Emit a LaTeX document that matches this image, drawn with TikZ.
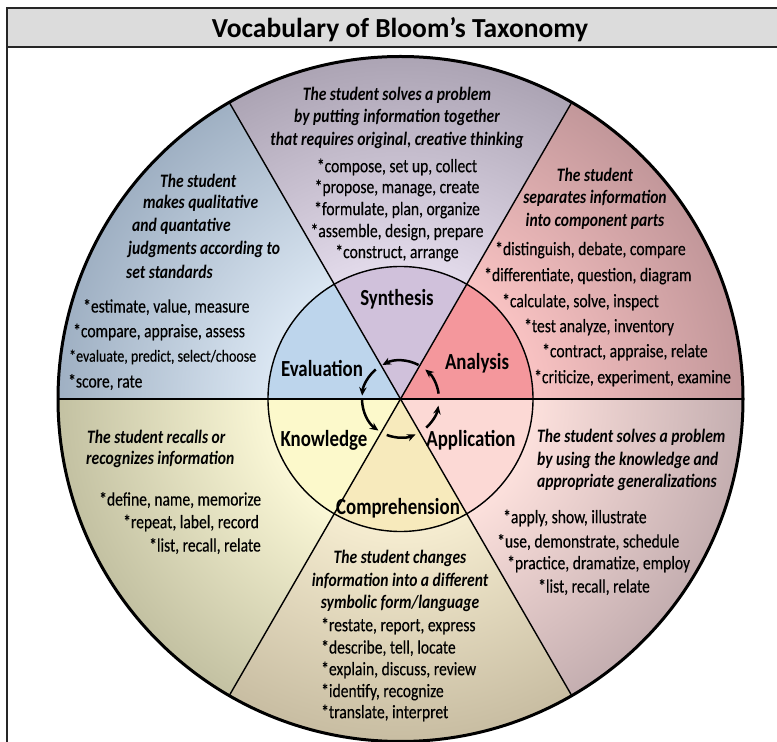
\documentclass[tikz,border=0pt]{standalone}
\usepackage{fontspec}
\setmainfont{Carlito}
\newfontfamily\condf{Carlito}[FakeStretch=0.82]
\newfontfamily\wordf{Carlito}[FakeStretch=0.82, FakeBold=0.3]
\usetikzlibrary{arrows.meta}

\definecolor{synA}{HTML}{E2DAEA} \definecolor{synB}{HTML}{ACA4B4} \definecolor{synI}{HTML}{D0C1DB}
\definecolor{anaA}{HTML}{F8C2C2} \definecolor{anaB}{HTML}{C2979A} \definecolor{anaI}{HTML}{F4979C}
\definecolor{appA}{HTML}{FCE0DC} \definecolor{appB}{HTML}{C4AEB0} \definecolor{appI}{HTML}{FCD9D5}
\definecolor{comA}{HTML}{F5ECD0} \definecolor{comB}{HTML}{C8BDA2} \definecolor{comI}{HTML}{F7EABC}
\definecolor{knoA}{HTML}{FAF7D6} \definecolor{knoB}{HTML}{C3C1A2} \definecolor{knoI}{HTML}{FCF9CB}
\definecolor{evaA}{HTML}{DAE6F2} \definecolor{evaB}{HTML}{9FB0C3} \definecolor{evaI}{HTML}{BDD5EC}
\definecolor{barG}{HTML}{DCDCDC}
\definecolor{rimA}{HTML}{FFFFFF}
\definecolor{rimB}{HTML}{000000}

\pgfdeclareradialshading[rimA,rimB]{ring}{\pgfpoint{0bp}{0bp}}{color(0bp)=(rimA); color(9.7bp)=(rimA); color(25bp)=(rimB); color(50bp)=(rimB)}

\newcommand{\bloomsector}[5]{%
  \begin{scope}
    \clip (C) -- ([shift={(#1:342.5)}]C) arc[start angle=#1, end angle=#2, radius=342.5] -- cycle;
    \colorlet{rimA}{#3}\colorlet{rimB}{#4}
    \shade[shading=ring] (C) circle[radius=342.5];
    \fill[#5] (C) circle[radius=132.5];
  \end{scope}}

\tikzset{
  head/.style={font=\condf\bfseries\itshape\fontsize{19}{22}\selectfont, inner sep=0pt},
  word/.style={font=\wordf\fontsize{19}{22}\selectfont, inner sep=0pt},
  smallword/.style={font=\wordf\fontsize{17}{20}\selectfont, inner sep=0pt},
  lbl/.style={font=\condf\bfseries\fontsize{23}{26}\selectfont, inner sep=0pt},
  cyc/.style={line width=2.5pt, -{Stealth[length=8.5pt,width=7.5pt]}},
  divider/.style={line width=1.4pt},
  frame/.style={draw=black!85, line width=1.6pt}
}

\begin{document}
\begin{tikzpicture}[x=1pt,y=1pt]
\useasboundingbox (0,0) rectangle (777,742);
\coordinate (C) at (400.5,343);

% frame and title bar
\fill[barG] (7,695) rectangle (777,734);
\draw[frame] (777,734) -- (7,734) -- (7,0);
\draw[draw=black!85, line width=2.4pt] (7,695) -- (777,695);
\node[font=\bfseries\fontsize{27.5}{30}\selectfont, inner sep=0pt] (title) at (400,712) {Vocabulary of Bloom’s Taxonomy};

% sectors
\bloomsector{0}{60}{anaA}{anaB}{anaI}
\bloomsector{60}{120}{synA}{synB}{synI}
\bloomsector{120}{180}{evaA}{evaB}{evaI}
\bloomsector{180}{240}{knoA}{knoB}{knoI}
\bloomsector{240}{300}{comA}{comB}{comI}
\bloomsector{300}{360}{appA}{appB}{appI}

% dividers and circles
\draw[divider] ([shift={(0:342.5)}]C) -- ([shift={(180:342.5)}]C);
\draw[divider] ([shift={(60:342.5)}]C) -- ([shift={(240:342.5)}]C);
\draw[divider] ([shift={(120:342.5)}]C) -- ([shift={(300:342.5)}]C);
\draw[line width=1.4pt] (C) circle[radius=132.5];
\draw[line width=3pt] (C) circle[radius=342.5];

% cycle arrows
\draw[cyc] ([shift={(8:38.5)}]C) arc[start angle=8, end angle=50, radius=38.5];
\draw[cyc] ([shift={(62:38.5)}]C) arc[start angle=62, end angle=118, radius=38.5];
\draw[cyc] ([shift={(130:38.5)}]C) arc[start angle=130, end angle=175, radius=38.5];
\draw[cyc] ([shift={(181:38.5)}]C) arc[start angle=181, end angle=235, radius=38.5];
\draw[cyc] ([shift={(249:38.5)}]C) arc[start angle=249, end angle=293, radius=38.5];
\draw[cyc] ([shift={(312:38.5)}]C) arc[start angle=312, end angle=350, radius=38.5];

% inner labels
\node[lbl] (lsyn) at (397,443) {Synthesis};
\node[lbl] (lana) at (477,379) {Analysis};
\node[lbl] (leva) at (322,373) {Evaluation};
\node[lbl] (lkno) at (324,302) {Knowledge};
\node[lbl] (lapp) at (471,302) {Application};
\node[lbl] (lcom) at (398,234) {Comprehension};

% Synthesis
\node[head] (synh1) at (397,647) {The student solves a problem};
\node[head] (synh2) at (397,625) {by putting information together};
\node[head] (synh3) at (397,602) {that requires original, creative thinking};
\node[word] (synw1) at (397,575) {*compose, set up, collect};
\node[word] (synw2) at (397,554) {*propose, manage, create};
\node[word] (synw3) at (397,532) {*formulate, plan, organize};
\node[word] (synw4) at (397,510) {*assemble, design, prepare};
\node[word] (synw5) at (397,489) {*construct, arrange};

% Analysis
\node[head] (anah1) at (595,567) {The student};
\node[head] (anah2) at (595,544) {separates information};
\node[head] (anah3) at (595,521) {into component parts};
\node[word, anchor=west] (anaw1) at (495,492) {*distinguish, debate, compare};
\node[word, anchor=west] (anaw2) at (484,466) {*differentiate, question, diagram};
\node[word, anchor=west] (anaw3) at (502,440) {*calculate, solve, inspect};
\node[word, anchor=west] (anaw4) at (524,415) {*test analyze, inventory};
\node[word, anchor=west] (anaw5) at (542,390) {*contract, appraise, relate};
\node[word, anchor=west] (anaw6) at (534,364) {*criticize, experiment, examine};

% Evaluation
\node[head, anchor=west] (evah1) at (160,561) {The student};
\node[head, anchor=west] (evah2) at (143,539) {makes qualitative};
\node[head, anchor=west] (evah3) at (132,516) {and quantative};
\node[head, anchor=west] (evah4) at (128,493) {judgments according to};
\node[head, anchor=west] (evah5) at (126,470) {set standards};
\node[word, anchor=west] (evaw1) at (83,435) {*estimate, value, measure};
\node[word, anchor=west] (evaw2) at (73,410) {*compare, appraise, assess};
\node[smallword, anchor=west] (evaw3) at (69,385) {*evaluate, predict, select/choose};
\node[word, anchor=west] (evaw4) at (68,360) {*score, rate};

% Knowledge
\node[head, anchor=west] (knoh1) at (87,305) {The student recalls or};
\node[head, anchor=west] (knoh2) at (86,283) {recognizes information};
\node[word, anchor=west] (know1) at (99,242) {*define, name, memorize};
\node[word, anchor=west] (know2) at (123,219) {*repeat, label, record};
\node[word, anchor=west] (know3) at (149,196) {*list, recall, relate};

% Application
\node[head, anchor=west] (apph1) at (537,305) {The student solves a problem};
\node[head, anchor=west] (apph2) at (537,282) {by using the knowledge and};
\node[head, anchor=west] (apph3) at (537,260) {appropriate generalizations};
\node[word, anchor=west] (appw1) at (503,224) {*apply, show, illustrate};
\node[word, anchor=west] (appw2) at (497,200) {*use, demonstrate, schedule};
\node[word, anchor=west] (appw3) at (507,178) {*practice, dramatize, employ};
\node[word, anchor=west] (appw4) at (538,155) {*list, recall, relate};

% Comprehension
\node[head] (comh1) at (400,184) {The student changes};
\node[head] (comh2) at (400,161) {information into a different};
\node[head] (comh3) at (400,139) {symbolic form/language};
\node[word, anchor=west] (comw1) at (321,116) {*restate, report, express};
\node[word, anchor=west] (comw2) at (321,94) {*describe, tell, locate};
\node[word, anchor=west] (comw3) at (321,72) {*explain, discuss, review};
\node[word, anchor=west] (comw4) at (321,50) {*identify, recognize};
\node[word, anchor=west] (comw5) at (321,29) {*translate, interpret};
\end{tikzpicture}
\end{document}
